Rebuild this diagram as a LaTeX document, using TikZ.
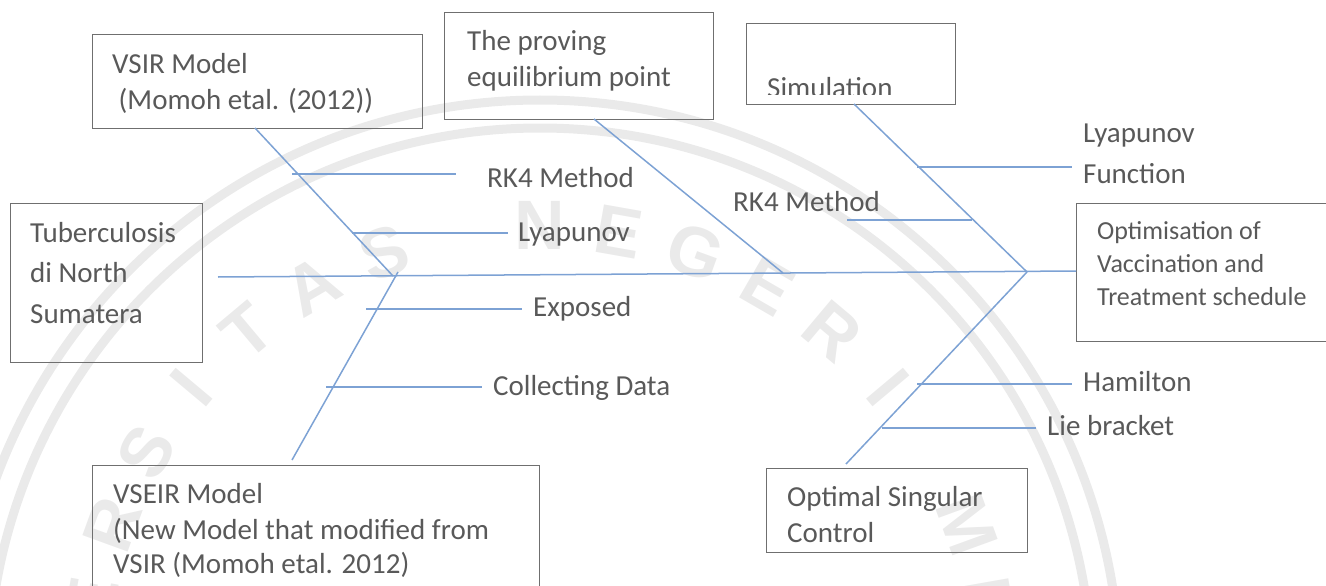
\documentclass[tikz,border=0pt]{standalone}
\usepackage{fontspec}
\setmainfont{Carlito}
\newfontfamily\wmfont{Liberation Sans}
\usetikzlibrary{calc}
\definecolor{txtgray}{HTML}{595959}
\definecolor{boxgray}{HTML}{6F6F6F}
\definecolor{bonecol}{HTML}{7DA2D4}
\definecolor{wmgray}{HTML}{EAEAEA}
\begin{document}
\begin{tikzpicture}[x=1pt,y=-1pt,
  box/.style={draw=boxgray,line width=1.3pt,anchor=north west,inner sep=0pt},
  txt/.style={anchor=base west,inner sep=0pt,text=txtgray,font=\fontsize{29}{35}\selectfont},
  smalltxt/.style={txt,font=\fontsize{26}{32}\selectfont},
  bone/.style={draw=bonecol,line width=1.5pt},
  wmletter/.style={text=wmgray,inner sep=0pt,font=\wmfont\bfseries\fontsize{70}{70}\selectfont},
  wmring/.style={draw=wmgray,line width=9pt}]
\useasboundingbox (0,0) rectangle (1326,586);
\clip (0,0) rectangle (1326,586);

% ---------- faint emblem in the background ----------
\coordinate (wmC) at (540,680);
\draw[wmring] (wmC) circle[radius=552pt];
\draw[wmring] (wmC) circle[radius=580pt];
\foreach \ch [count=\i from 0] in {U,N,I,V,E,R,S,I,T,A,S,{},N,E,G,E,R,I,{},M,E,D,A,N} {
  \pgfmathsetmacro{\ang}{210-10*\i}
  \node[wmletter,rotate=\ang-90] (wm\i) at ($(wmC)+(\ang:455pt)$) {\ch};
}

% ---------- boxes ----------
\node[box,minimum width=330pt,minimum height=94pt]  (vsir)  at (92,34)   {};
\node[box,minimum width=269pt,minimum height=107pt] (prove) at (444,12)  {};
\node[box,minimum width=209pt,minimum height=81pt]  (simu)  at (746,23)  {};
\node[box,minimum width=192pt,minimum height=159pt] (tb)    at (10,203)  {};
\node[box,minimum width=270pt,minimum height=138pt] (opt)   at (1076,203){};
\node[box,minimum width=447pt,minimum height=140pt] (vseir) at (92,465)  {};
\node[box,minimum width=261pt,minimum height=84pt]  (osc)   at (766,468) {};

% ---------- box texts ----------
\node[txt] (vsirA) at (112,74)  {VSIR Model};
\node[txt] (vsirB) at (118.5,110) {(Momoh etal. (2012))};
\node[txt] (proveA) at (467,51) {The proving};
\node[txt] (proveB) at (467,87) {equilibrium point};
\begin{scope}
  \clip (746,23) rectangle (955,95);
  \node[txt] (simuA) at (767,97) {Simulation};
\end{scope}
\node[txt] (tbA) at (30,242) {Tuberculosis};
\node[txt] (tbB) at (30,282) {di North};
\node[txt] (tbC) at (30,323) {Sumatera};
\node[smalltxt] (optA) at (1097,239) {Optimisation of};
\node[smalltxt] (optB) at (1097,272) {Vaccination and};
\node[smalltxt] (optC) at (1097,305) {Treatment schedule};
\node[txt] (vseirA) at (113,503) {VSEIR Model};
\node[txt] (vseirB) at (113,539) {(New Model that modified from};
\node[txt] (vseirC) at (113,573) {VSIR (Momoh etal. 2012)};
\node[txt] (oscA) at (787,506) {Optimal Singular};
\node[txt] (oscB) at (787,542) {Control};

% ---------- rib labels ----------
\node[txt] (rkL)   at (487,187)  {RK4 Method};
\node[txt] (lyL)   at (518,241)  {Lyapunov};
\node[txt] (expo)  at (533,316)  {Exposed};
\node[txt] (coll)  at (493,395)  {Collecting Data};
\node[txt] (rkR)   at (733,211)  {RK4 Method};
\node[txt] (lyRA)  at (1083,142) {Lyapunov};
\node[txt] (lyRB)  at (1083,183) {Function};
\node[txt] (ham)   at (1083,391) {Hamilton};
\node[txt] (lie)   at (1047,435) {Lie bracket};

% ---------- joints and rib ends ----------
\coordinate (spL)  at (218,277);
\coordinate (jL)   at (393,276);
\coordinate (jLb)  at (398,272);
\coordinate (jM)   at (783,273);
\coordinate (jR)   at (1027,272);
\coordinate (spR)  at (1076,271);
\coordinate (vsirT) at (255,128);
\coordinate (vseirT) at (292,460);
\coordinate (proveT) at (594,119);
\coordinate (simuT) at (854,104);
\coordinate (oscT) at (846,464);

\coordinate (r1a) at (292,174); \coordinate (r1b) at (456,174);
\coordinate (r2a) at (352,233); \coordinate (r2b) at (508,233);
\coordinate (r3a) at (366,309); \coordinate (r3b) at (522,309);
\coordinate (r4a) at (326,387); \coordinate (r4b) at (482,387);
\coordinate (r5a) at (917,167); \coordinate (r5b) at (1072,167);
\coordinate (r6a) at (847,220); \coordinate (r6b) at (972,220);
\coordinate (r7a) at (917,384); \coordinate (r7b) at (1072,384);
\coordinate (r8a) at (882,428); \coordinate (r8b) at (1036,428);

% ---------- spine and bones ----------
\draw[bone] (spL) -- (spR);
\draw[bone] (vsirT) -- (jL);
\draw[bone] (jLb) -- (vseirT);
\draw[bone] (proveT) -- (jM);
\draw[bone] (simuT) -- (jR);
\draw[bone] (jR) -- (oscT);

% ---------- ribs ----------
\foreach \r in {1,...,8} {\draw[bone] (r\r a) -- (r\r b);}
\end{tikzpicture}
\end{document}
